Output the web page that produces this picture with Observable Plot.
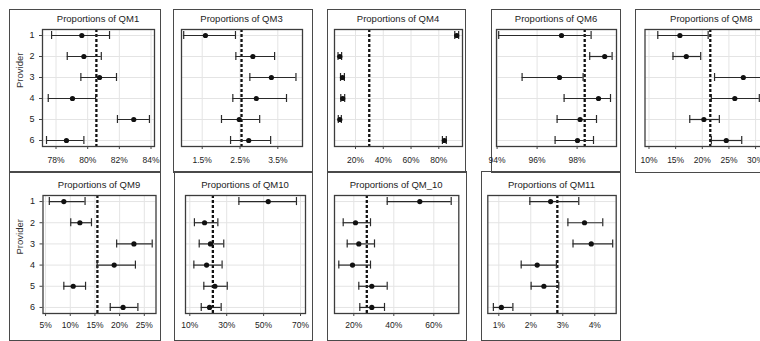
<!DOCTYPE html>
<html><head><meta charset="utf-8">
<script src="https://cdn.jsdelivr.net/npm/d3@7"></script>
<script src="https://cdn.jsdelivr.net/npm/@observablehq/plot@0.6"></script>
<style>
html,body{margin:0;padding:0;background:#fff;overflow:hidden;}
#root{position:relative;width:760px;height:341px;overflow:hidden;font-family:"Liberation Sans",Arial,sans-serif;}
.box{position:absolute;border:1.5px solid #4a4a4a;box-sizing:border-box;}
.title{position:absolute;font-size:9.5px;color:#222;white-space:nowrap;transform:translate(-50%,-50%);}
.plot{position:absolute;}
</style></head><body><div id="root"></div>
<script>
const providers = [1, 2, 3, 4, 5, 6];

const qm1Est = [79.63, 79.76, 80.75, 79.04, 82.91, 78.66];
const qm1Lo  = [77.72, 78.71, 79.57, 77.51, 81.88, 77.40];
const qm1Hi  = [81.38, 80.86, 81.82, 80.50, 83.90, 79.76];
const qm1Ref = 80.55;
const qm1Ticks = [78, 80, 82, 84];

const qm3Est = [1.585, 2.84, 3.33, 2.93, 2.48, 2.73];
const qm3Lo  = [1.01, 2.39, 2.76, 2.31, 2.01, 2.25];
const qm3Hi  = [2.38, 3.415, 3.98, 3.73, 3.02, 3.31];
const qm3Ref = 2.54;
const qm3Ticks = [1.5, 2.5, 3.5];

const qm4Est = [92.9, 8.7, 10.6, 10.8, 8.7, 84.0];
const qm4Lo  = [91.5, 7.4, 9.2, 9.4, 7.6, 82.6];
const qm4Hi  = [94.3, 10.0, 12.0, 12.2, 9.8, 85.4];
const qm4Ref = 29.9;
const qm4Ticks = [20, 40, 60, 80];

const qm6Est = [97.22, 99.38, 97.12, 99.07, 98.15, 98.02];
const qm6Lo  = [94.08, 98.63, 95.25, 97.35, 97.00, 96.90];
const qm6Hi  = [98.70, 99.75, 98.30, 99.67, 98.97, 98.82];
const qm6Ref = 98.38;
const qm6Ticks = [94, 96, 98];

const qm8Est = [15.8, 17.0, 27.7, 26.1, 20.3, 24.5];
const qm8Lo  = [11.65, 14.5, 22.3, 21.7, 17.65, 21.7];
const qm8Hi  = [21.1, 19.7, 33.0, 30.7, 23.2, 27.4];
const qm8Ref = 21.5;
const qm8Ticks = [10, 15, 20, 25, 30];

const qm9Est = [8.7, 11.95, 22.9, 18.9, 10.6, 20.7];
const qm9Lo  = [5.76, 10.1, 19.4, 15.45, 8.7, 18.1];
const qm9Hi  = [13.0, 14.3, 26.6, 23.2, 13.1, 23.7];
const qm9Ref = 15.5;
const qm9Ticks = [5, 10, 15, 20, 25];

const qm10Est = [52.5, 18.0, 21.2, 19.1, 23.6, 20.7];
const qm10Lo  = [36.6, 12.5, 15.1, 12.2, 17.6, 16.2];
const qm10Hi  = [67.8, 25.2, 28.4, 27.5, 30.3, 27.0];
const qm10Ref = 22.5;
const qm10Ticks = [10, 30, 50, 70];

const qm_10Est = [53.0, 20.85, 22.5, 19.35, 29.0, 29.0];
const qm_10Lo  = [36.7, 14.7, 16.7, 12.5, 22.5, 23.0];
const qm_10Hi  = [68.7, 28.35, 30.35, 28.35, 36.7, 35.35];
const qm_10Ref = 26.5;
const qm_10Ticks = [20, 40, 60];

const qm11Est = [2.62, 3.68, 3.89, 2.20, 2.41, 1.08];
const qm11Lo  = [1.97, 3.16, 3.32, 1.70, 2.01, 0.83];
const qm11Hi  = [3.50, 4.25, 4.56, 2.80, 2.875, 1.44];
const qm11Ref = 2.83;
const qm11Ticks = [1, 2, 3, 4];

const TOP = {box: [9, 173], frame: [29, 146], titleY: 18, pad: 7};
const BOT = {box: [171, 341], frame: [195, 313], titleY: 184, pad: 5.5};

const panels = [
  {name: "QM1", est: qm1Est, lo: qm1Lo, hi: qm1Hi, ref: qm1Ref, ticks: qm1Ticks, row: TOP, bx: [9, 161], fx: [42, 154], domain: [77.147, 84.22], showY: true},
  {name: "QM3", est: qm3Est, lo: qm3Lo, hi: qm3Hi, ref: qm3Ref, ticks: qm3Ticks, row: TOP, bx: [173, 313], fx: [181, 302], domain: [0.952, 4.153]},
  {name: "QM4", est: qm4Est, lo: qm4Lo, hi: qm4Hi, ref: qm4Ref, ticks: qm4Ticks, row: TOP, bx: [327, 466], fx: [334, 462], domain: [4.87, 97.07]},
  {name: "QM6", est: qm6Est, lo: qm6Lo, hi: qm6Hi, ref: qm6Ref, ticks: qm6Ticks, row: TOP, bx: [491, 621], fx: [496, 616], domain: [93.97, 99.97]},
  {name: "QM8", est: qm8Est, lo: qm8Lo, hi: qm8Hi, ref: qm8Ref, ticks: qm8Ticks, row: TOP, bx: [635, 790], fx: [644.5, 778], domain: [9.25, 34.3]},
  {name: "QM9", est: qm9Est, lo: qm9Lo, hi: qm9Hi, ref: qm9Ref, ticks: qm9Ticks, row: BOT, bx: [9, 161], fx: [42.5, 155.5], domain: [4.48, 27.37], showY: true},
  {name: "QM10", est: qm10Est, lo: qm10Lo, hi: qm10Hi, ref: qm10Ref, ticks: qm10Ticks, row: BOT, bx: [174, 313], fx: [185, 305], domain: [7.67, 72.7]},
  {name: "QM_10", est: qm_10Est, lo: qm_10Lo, hi: qm_10Hi, ref: qm_10Ref, ticks: qm_10Ticks, row: BOT, bx: [327, 467], fx: [334, 458.3], domain: [10.35, 72.5]},
  {name: "QM11", est: qm11Est, lo: qm11Lo, hi: qm11Hi, ref: qm11Ref, ticks: qm11Ticks, row: BOT, bx: [481, 621], fx: [487.3, 615.7], domain: [0.656, 4.67]}
];

const root = document.getElementById("root");
const FONT = '"Liberation Sans", Arial, sans-serif';

for (const p of panels) {
  const r = p.row;
  const data = providers.map((d, i) => ({provider: d, est: p.est[i], lo: p.lo[i], hi: p.hi[i]}));
  const W = p.bx[1] - p.bx[0];
  const H = r.box[1] - r.box[0];

  const box = document.createElement("div");
  box.className = "box";
  box.style.left = p.bx[0] + "px";
  box.style.top = r.box[0] + "px";
  box.style.width = W + "px";
  box.style.height = H + "px";
  root.appendChild(box);

  const marks = [
    Plot.gridX(p.ticks, {stroke: "#e4e4e4", strokeOpacity: 1}),
    Plot.gridY(providers, {stroke: "#e4e4e4", strokeOpacity: 1}),
    Plot.ruleX([p.ref], {stroke: "#111", strokeWidth: 2.3, strokeDasharray: "3,2"}),
    Plot.ruleY(data, {y: "provider", x1: "lo", x2: "hi", stroke: "#2a2a2a", strokeWidth: 1.2}),
    Plot.ruleX(data, {x: "lo", y1: d => d.provider - 0.19, y2: d => d.provider + 0.19, stroke: "#2a2a2a", strokeWidth: 1.2}),
    Plot.ruleX(data, {x: "hi", y1: d => d.provider - 0.19, y2: d => d.provider + 0.19, stroke: "#2a2a2a", strokeWidth: 1.2}),
    Plot.dot(data, {x: "est", y: "provider", r: 2.6, fill: "#111", stroke: "none"}),
    Plot.frame({stroke: "#3c3c3c", strokeWidth: 1.3}),
    Plot.axisX(p.ticks, {tickFormat: d => d + "%", tickSize: 3, tickPadding: r.pad, label: null, fontSize: 8.5, stroke: "#444"})
  ];
  if (p.showY) {
    marks.push(Plot.axisY(providers, {tickFormat: d => String(d), tickSize: 3, tickPadding: 5, label: null, fontSize: 9, stroke: "#444"}));
    marks.push(Plot.text(["Provider"], {frameAnchor: "left", dx: -23, rotate: -90, fontSize: 9.5, fill: "#333"}));
  }

  const chart = Plot.plot({
    width: W,
    height: H,
    marginLeft: p.fx[0] - p.bx[0],
    marginRight: p.bx[1] - p.fx[1],
    marginTop: r.frame[0] - r.box[0],
    marginBottom: r.box[1] - r.frame[1],
    x: {domain: p.domain},
    y: {domain: [0.714, 6.286], reverse: true, axis: p.showY ? undefined : null},
    style: {fontFamily: FONT, color: "#222", background: "transparent", overflow: "visible"},
    marks
  });
  chart.classList.add("plot");
  chart.style.left = p.bx[0] + "px";
  chart.style.top = r.box[0] + "px";
  root.appendChild(chart);

  const t = document.createElement("div");
  t.className = "title";
  t.textContent = "Proportions of " + p.name;
  t.style.left = ((p.fx[0] + p.fx[1]) / 2) + "px";
  t.style.top = r.titleY + "px";
  root.appendChild(t);
}
</script></body></html>
